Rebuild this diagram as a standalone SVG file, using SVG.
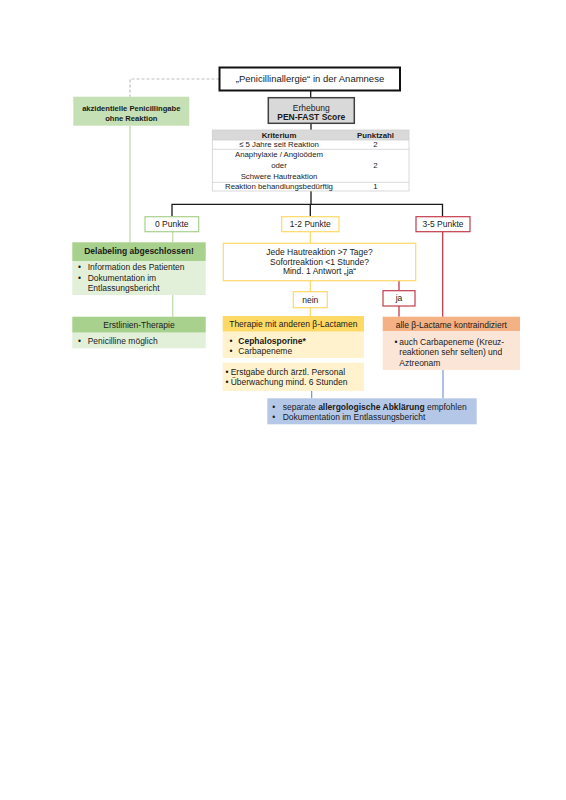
<svg xmlns="http://www.w3.org/2000/svg" width="566" height="800" viewBox="0 0 566 800">
<style>
text{font-family:"Liberation Sans",Arial,sans-serif;font-size:8.5px;fill:#1a1a1a}
.c{text-anchor:middle}
.b{font-weight:bold}
.t{font-size:7.8px}
.k{stroke:#1a1a1a;stroke-width:1.3;fill:none}
.lg{stroke:#c5dcb0;stroke-width:1.3;fill:none}
.ly{stroke:#ffd966;stroke-width:1.3;fill:none}
.lr{stroke:#c43b4a;stroke-width:1.3;fill:none}
.lb{stroke:#6f8fc8;stroke-width:1.1;fill:none}
</style>
<rect width="566" height="800" fill="#fff"/>
<g id="connectors">
<path d="M219.5,79 H130 V96.7" stroke="#bfbfbf" stroke-width="1.2" stroke-dasharray="3,2" fill="none"/>
<path class="lg" d="M130,125.7 V242.3"/>
<path class="k" d="M310.7,90.5 V97.7"/>
<path class="k" d="M311,123.3 V130"/>
<path class="k" d="M311,191 V204.3"/>
<path class="k" d="M172,216.7 V204.3 H442.5 V216.7 M310.3,204.3 V216.7"/>
<path class="lg" d="M172.7,231.7 V242.3"/>
<path class="lg" d="M172.7,295 V316.7"/>
<path class="ly" d="M310.3,231.7 V243.3 M310.3,280.7 V291.7 M310.3,307.7 V316"/>
<path class="lr" d="M399,280.7 V290.7 M399,306 V316.7 M442.7,231.7 V316.7"/>
<path class="lb" d="M311.7,391 V398.3 M443,370 V398.3"/>
</g>
<g id="start">
<rect x="219.5" y="67.5" width="180.5" height="23" fill="#fff" stroke="#111" stroke-width="2"/>
<text class="c" x="310" y="82.3" style="font-size:9.5px">„Penicillinallergie“ in der Anamnese</text>
</g>
<g id="akzidentiell">
<rect x="73.3" y="96.7" width="116" height="29" fill="#c5e0b4"/>
<text class="c b" x="131.3" y="110.5" style="font-size:7.6px">akzidentielle Penicillingabe</text>
<text class="c b" x="131.3" y="121" style="font-size:7.6px">ohne Reaktion</text>
</g>
<g id="erhebung">
<rect x="268.3" y="97.7" width="86" height="25.6" fill="#d9d9d9" stroke="#404040" stroke-width="1.5"/>
<text class="c" x="311.3" y="110.8">Erhebung</text>
<text class="c b" x="311.3" y="120.3">PEN-FAST Score</text>
</g>
<g id="table">
<rect x="212.3" y="130" width="196.7" height="10" fill="#d9d9d9"/>
<rect x="212.3" y="130" width="196.7" height="61" fill="none" stroke="#cfcfcf" stroke-width="0.8"/>
<path d="M212.3,140 H409 M212.3,149.3 H409 M212.3,182.3 H409" stroke="#cfcfcf" stroke-width="0.8"/>
<text class="c b t" x="279" y="137.8">Kriterium</text>
<text class="c b t" x="375.5" y="137.8">Punktzahl</text>
<text class="c t" x="279" y="147.1">≤ 5 Jahre seit Reaktion</text>
<text class="c t" x="375.5" y="147.1">2</text>
<text class="c t" x="279" y="157">Anaphylaxie / Angioödem</text>
<text class="c t" x="279" y="168.4">oder</text>
<text class="c t" x="279" y="179.4">Schwere Hautreaktion</text>
<text class="c t" x="375.5" y="168.4">2</text>
<text class="c t" x="279" y="189.4">Reaktion behandlungsbedürftig</text>
<text class="c t" x="375.5" y="189.4">1</text>
</g>
<g id="p0">
<rect x="145" y="216.7" width="53.7" height="15" fill="#fff" stroke="#a9d18e" stroke-width="1.2"/>
<text class="c" x="171.8" y="227.1">0 Punkte</text>
</g>
<g id="p12">
<rect x="281.7" y="216.7" width="57.3" height="15" fill="#fff" stroke="#ffd966" stroke-width="1.2"/>
<text class="c" x="310.3" y="227.1">1-2 Punkte</text>
</g>
<g id="p35">
<rect x="416" y="216.7" width="54" height="15" fill="#fff" stroke="#c43b4a" stroke-width="1.2"/>
<text class="c" x="443" y="227.1">3-5 Punkte</text>
</g>
<g id="delabeling">
<rect x="72.3" y="242.3" width="133.4" height="18.7" fill="#a9d18e"/>
<rect x="72.3" y="261" width="133.4" height="34" fill="#e2f0d9"/>
<text class="c b" x="139" y="254.3">Delabeling abgeschlossen!</text>
<text x="78" y="270.3">•</text><text x="87.7" y="270.3">Information des Patienten</text>
<text x="78" y="280.7">•</text><text x="87.7" y="280.7">Dokumentation im</text>
<text x="87.7" y="290.7">Entlassungsbericht</text>
</g>
<g id="erstlinien">
<rect x="72.3" y="316.7" width="133.4" height="16" fill="#a9d18e"/>
<rect x="72.3" y="332.7" width="133.4" height="15.6" fill="#e2f0d9"/>
<text class="c" x="139" y="327.7">Erstlinien-Therapie</text>
<text x="78" y="343.6">•</text><text x="87.7" y="343.6">Penicilline möglich</text>
</g>
<g id="frage">
<rect x="223.3" y="243.3" width="192.4" height="37.4" fill="#fff" stroke="#ffd966" stroke-width="1.2"/>
<text class="c" x="319.5" y="254.6">Jede Hautreaktion &gt;7 Tage?</text>
<text class="c" x="319.5" y="264.5">Sofortreaktion &lt;1 Stunde?</text>
<text class="c" x="319.5" y="274">Mind. 1 Antwort „ja“</text>
</g>
<g id="nein">
<rect x="293.3" y="291.7" width="34" height="16" fill="#fff" stroke="#ffd966" stroke-width="1.2"/>
<text class="c" x="310.3" y="302.6">nein</text>
</g>
<g id="ja">
<rect x="383" y="290.7" width="32" height="15.3" fill="#fff" stroke="#c43b4a" stroke-width="1.2"/>
<text class="c" x="399" y="301.4">ja</text>
</g>
<g id="therapie">
<rect x="222.7" y="316" width="141.3" height="15.7" fill="#ffd966"/>
<rect x="222.7" y="331.7" width="141.3" height="26.3" fill="#fff2cc"/>
<text class="c" x="293.3" y="327">Therapie mit anderen β-Lactamen</text>
<text x="229.5" y="343.5">•</text><text class="b" x="238.3" y="343.5">Cephalosporine*</text>
<text x="229.5" y="353.6">•</text><text x="238.3" y="353.6">Carbapeneme</text>
</g>
<g id="erstgabe">
<rect x="222.7" y="362.7" width="141.3" height="28.3" fill="#fff2cc"/>
<text x="225.5" y="375.1">•</text><text x="230.7" y="375.1">Erstgabe durch ärztl. Personal</text>
<text x="225.5" y="385.1">•</text><text x="230.7" y="385.1">Überwachung mind. 6 Stunden</text>
</g>
<g id="kontra">
<rect x="382.7" y="316.7" width="137.3" height="14.3" fill="#f4b183"/>
<rect x="382.7" y="331" width="137.3" height="39" fill="#fbe5d6"/>
<text class="c" x="451.3" y="327.6">alle β-Lactame kontraindiziert</text>
<text x="394.5" y="344.5">•</text><text x="399.3" y="344.5">auch Carbapeneme (Kreuz-</text>
<text x="399.3" y="355">reaktionen sehr selten) und</text>
<text x="399.3" y="365.5">Aztreonam</text>
</g>
<g id="abklaerung">
<rect x="267.3" y="398.3" width="209.4" height="26" fill="#b4c7e7"/>
<text x="272.3" y="409.5">•</text><text x="282.7" y="409.5">separate <tspan class="b">allergologische Abklärung</tspan> empfohlen</text>
<text x="272.3" y="420">•</text><text x="282.7" y="420">Dokumentation im Entlassungsbericht</text>
</g>
</svg>
